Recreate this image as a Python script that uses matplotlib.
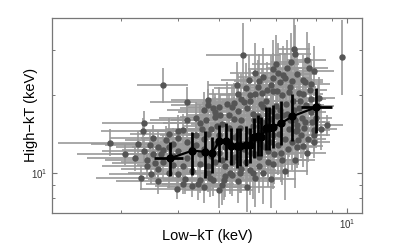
import numpy as np
import matplotlib
matplotlib.use("Agg")
import matplotlib.pyplot as plt
from matplotlib.ticker import NullFormatter, FixedLocator

plt.rcParams['font.family'] = ['Liberation Sans', 'DejaVu Sans']
plt.rcParams['mathtext.default'] = 'regular'

# individual regions: low-kT, high-kT and multiplicative error factors
gx = [2.69, 4.77, 9.65, 6.85, 6.9, 8.65, 1.85, 2.35, 2.33, 2.25,
      2.05, 2.35, 2.4, 2.5, 2.48, 2.6, 2.97, 3.1, 3.3, 3.5,
      3.1, 3.0, 3.2, 3.4, 3.9, 3.2, 3.7, 3.7, 2.65, 2.8,
      2.9, 3.5, 3.7, 3.9, 3.85, 7.6, 7.9, 5.9, 6.1, 7.0,
      7.3, 7.7, 5.9, 6.4, 6.65, 5.9, 5.45, 5.0, 4.85, 7.1,
      8.2, 7.7, 4.45, 4.0, 4.6, 7.0, 7.25, 5.5, 6.2, 5.1,
      7.4, 7.9, 7.9, 7.0, 7.3, 6.3, 5.9, 5.7, 5.35, 5.0,
      4.65, 4.4, 4.1, 4.2, 7.9, 7.0,
      3.6, 3.8, 4.0, 4.1, 4.3, 4.3, 4.5, 4.6, 4.7, 4.8,
      4.9, 5.0, 5.1, 5.2, 5.3, 5.4, 5.5, 5.6, 5.7, 5.8,
      5.9, 6.0, 6.1, 6.2, 6.3, 6.4, 6.5, 6.6, 6.8, 6.9,
      7.1, 7.2, 3.4, 3.5, 3.2, 3.0, 2.9, 2.7, 3.3, 3.7,
      4.2, 4.4, 4.6, 5.2, 5.5, 3.9, 4.4, 4.7, 5.3, 5.8,
      6.6, 6.2, 3.6, 2.6, 2.8, 2.4, 2.2, 2.3, 2.6, 3.0,
      3.6, 4.0, 4.9, 5.8, 6.4, 6.9, 7.5, 7.7, 8.0, 7.3,
      6.0, 5.5, 6.7, 7.5, 5.2,
      2.5, 2.7, 2.8, 2.9, 3.0, 3.1, 3.2, 3.3, 3.4, 3.5,
      2.55, 2.75, 3.15, 3.45, 2.45,
      3.6, 3.7, 3.8, 3.9, 4.0, 4.1, 4.2, 4.3, 4.4, 4.5,
      3.65, 3.85, 4.05, 4.25, 4.45, 3.75, 4.15, 4.35, 3.55, 3.95,
      4.55, 4.65, 4.75, 4.85, 4.95, 5.05, 5.15, 5.25, 5.35, 5.45,
      4.6, 4.8, 5.0, 5.2, 5.4, 4.7, 5.1, 4.55, 5.35, 4.95,
      5.55, 5.65, 5.75, 5.85, 5.95, 6.05, 6.15, 6.25, 6.35, 6.45,
      6.55, 6.65, 6.75, 6.85, 6.95, 5.65, 6.05, 6.35, 6.75, 6.5,
      7.05, 7.15, 7.35, 7.45, 7.55, 7.65, 7.8, 8.1, 8.3, 7.4]
gy = [21.9, 28.8, 28.1, 30.4, 28.9, 15.3, 13.1, 15.6, 14.6, 13.0,
      11.8, 12.2, 11.2, 13.7, 9.95, 10.4, 8.7, 9.1, 8.9, 9.4,
      14.7, 13.7, 16.0, 16.4, 17.2, 18.8, 19.2, 18.4, 11.9, 12.6,
      10.7, 11.9, 10.6, 11.0, 9.4, 25.6, 24.8, 25.3, 24.5, 24.3,
      23.0, 22.2, 23.4, 23.4, 21.5, 20.8, 20.4, 20.0, 21.3, 20.4,
      19.6, 19.4, 18.7, 18.0, 20.2, 15.3, 16.4, 18.0, 17.6, 17.0,
      15.8, 14.0, 13.2, 12.6, 12.7, 11.2, 10.8, 11.0, 11.5, 10.3,
      10.0, 9.8, 9.0, 9.7, 14.7, 14.7,
      13.5, 14.8, 12.0, 15.5, 13.2, 16.8, 11.5, 14.2, 16.0, 12.4,
      17.8, 13.6, 15.2, 11.8, 16.6, 13.0, 14.6, 19.0, 12.2, 16.2,
      14.0, 18.2, 12.8, 15.6, 20.0, 13.6, 17.0, 14.8, 19.0, 16.0,
      17.8, 14.0, 12.8, 15.6, 11.4, 12.2, 13.0, 11.0, 10.2, 10.0,
      10.6, 12.9, 9.3, 9.6, 10.0, 16.5, 18.0, 19.4, 21.5, 22.0,
      20.6, 22.5, 17.5, 12.6, 14.2, 10.6, 11.4, 9.6, 9.3, 9.9,
      8.8, 8.6, 8.8, 9.5, 10.2, 11.2, 12.0, 17.2, 16.4, 20.2,
      26.5, 23.5, 27.0, 27.5, 24.5,
      11.8, 12.3, 10.0, 11.6, 14.6, 10.6, 13.2, 12.4, 14.0, 10.8,
      10.9, 13.4, 9.5, 9.1, 12.9,
      12.4, 14.2, 11.6, 13.0, 14.0, 11.2, 12.6, 15.0, 11.0, 13.8,
      16.0, 17.8, 16.8, 18.6, 16.2, 9.6, 9.4, 10.0, 14.8, 15.2,
      12.6, 15.0, 13.0, 11.0, 14.6, 12.0, 16.0, 13.6, 10.6, 15.8,
      17.4, 18.8, 19.0, 20.2, 18.6, 10.4, 10.0, 22.0, 22.8, 23.0,
      12.6, 15.2, 13.2, 17.4, 11.8, 16.6, 14.2, 12.0, 16.8, 18.6,
      12.4, 16.0, 13.2, 17.6, 14.6, 21.0, 20.8, 24.0, 22.8, 25.6,
      13.4, 19.0, 15.0, 18.4, 13.6, 21.0, 15.8, 18.2, 14.8, 22.6]
gxf = [1.2, 1.3, 1.0, 1.12, 1.12, 1.12, 1.45, 1.35, 1.35, 1.4,
       1.4, 1.35, 1.35, 1.35, 1.35, 1.3, 1.3, 1.3, 1.3, 1.3,
       1.3, 1.3, 1.3, 1.3, 1.3, 1.3, 1.3, 1.3, 1.3, 1.3,
       1.3, 1.3, 1.3, 1.3, 1.3, 1.15, 1.15, 1.2, 1.2, 1.15,
       1.15, 1.15, 1.2, 1.2, 1.2, 1.2, 1.2, 1.25, 1.25, 1.15,
       1.12, 1.12, 1.25, 1.25, 1.25, 1.15, 1.15, 1.2, 1.2, 1.2,
       1.15, 1.12, 1.12, 1.15, 1.15, 1.2, 1.2, 1.2, 1.2, 1.2,
       1.2, 1.2, 1.2, 1.2, 1.12, 1.15,
       1.3, 1.28, 1.3, 1.25, 1.28, 1.25, 1.28, 1.25, 1.25, 1.25,
       1.22, 1.25, 1.22, 1.22, 1.2, 1.22, 1.2, 1.2, 1.2, 1.2,
       1.2, 1.18, 1.2, 1.18, 1.18, 1.18, 1.18, 1.18, 1.15, 1.15,
       1.15, 1.15, 1.3, 1.3, 1.3, 1.32, 1.32, 1.35, 1.3, 1.3,
       1.28, 1.28, 1.25, 1.22, 1.2, 1.28, 1.25, 1.25, 1.2, 1.2,
       1.18, 1.18, 1.3, 1.35, 1.32, 1.38, 1.4, 1.38, 1.35, 1.32,
       1.3, 1.28, 1.22, 1.2, 1.18, 1.15, 1.15, 1.12, 1.12, 1.15,
       1.18, 1.2, 1.15, 1.15, 1.2,
       1.36, 1.34, 1.33, 1.32, 1.32, 1.3, 1.3, 1.3, 1.29, 1.29,
       1.36, 1.34, 1.3, 1.29, 1.38,
       1.28, 1.28, 1.27, 1.27, 1.26, 1.26, 1.26, 1.25, 1.25, 1.24,
       1.28, 1.27, 1.26, 1.25, 1.24, 1.28, 1.26, 1.25, 1.29, 1.27,
       1.23, 1.23, 1.22, 1.22, 1.22, 1.21, 1.21, 1.2, 1.2, 1.2,
       1.23, 1.22, 1.22, 1.21, 1.2, 1.22, 1.21, 1.23, 1.2, 1.22,
       1.19, 1.19, 1.18, 1.18, 1.18, 1.17, 1.17, 1.17, 1.16, 1.16,
       1.16, 1.16, 1.15, 1.15, 1.15, 1.19, 1.17, 1.16, 1.15, 1.16,
       1.15, 1.15, 1.14, 1.14, 1.14, 1.13, 1.13, 1.12, 1.12, 1.14]
gyf = [1.17, 1.33, 1.4, 1.3, 1.3, 1.1, 1.13, 1.12, 1.12, 1.12,
       1.1, 1.12, 1.1, 1.12, 1.1, 1.12, 1.1, 1.1, 1.1, 1.12,
       1.15, 1.15, 1.15, 1.15, 1.18, 1.15, 1.18, 1.15, 1.12, 1.12,
       1.12, 1.15, 1.15, 1.15, 1.15, 1.25, 1.25, 1.3, 1.3, 1.25,
       1.25, 1.25, 1.25, 1.25, 1.25, 1.25, 1.25, 1.25, 1.25, 1.2,
       1.2, 1.2, 1.2, 1.2, 1.2, 1.2, 1.2, 1.2, 1.2, 1.2,
       1.2, 1.15, 1.15, 1.2, 1.2, 1.25, 1.25, 1.25, 1.25, 1.25,
       1.2, 1.2, 1.2, 1.2, 1.15, 1.2,
       1.18, 1.2, 1.18, 1.2, 1.2, 1.22, 1.2, 1.22, 1.22, 1.2,
       1.25, 1.22, 1.25, 1.25, 1.25, 1.25, 1.25, 1.28, 1.28, 1.25,
       1.25, 1.28, 1.3, 1.25, 1.28, 1.28, 1.25, 1.28, 1.28, 1.25,
       1.25, 1.22, 1.18, 1.18, 1.15, 1.15, 1.15, 1.15, 1.15, 1.18,
       1.2, 1.2, 1.22, 1.3, 1.32, 1.2, 1.22, 1.25, 1.28, 1.3,
       1.28, 1.3, 1.18, 1.15, 1.15, 1.12, 1.12, 1.12, 1.12, 1.15,
       1.15, 1.18, 1.25, 1.3, 1.3, 1.28, 1.22, 1.22, 1.2, 1.25,
       1.3, 1.3, 1.3, 1.28, 1.3,
       1.14, 1.14, 1.14, 1.15, 1.15, 1.15, 1.16, 1.16, 1.16, 1.16,
       1.13, 1.14, 1.15, 1.16, 1.13,
       1.18, 1.18, 1.19, 1.19, 1.2, 1.2, 1.2, 1.21, 1.21, 1.22,
       1.18, 1.19, 1.2, 1.21, 1.22, 1.19, 1.2, 1.21, 1.18, 1.19,
       1.23, 1.23, 1.24, 1.24, 1.25, 1.25, 1.26, 1.26, 1.27, 1.27,
       1.23, 1.24, 1.25, 1.26, 1.27, 1.24, 1.26, 1.23, 1.27, 1.25,
       1.28, 1.28, 1.29, 1.29, 1.3, 1.3, 1.3, 1.3, 1.3, 1.3,
       1.29, 1.29, 1.28, 1.28, 1.27, 1.28, 1.3, 1.3, 1.28, 1.28,
       1.25, 1.25, 1.24, 1.24, 1.23, 1.23, 1.22, 1.21, 1.2, 1.24]

# binned average
bx = [2.83, 3.31, 3.63, 3.82, 4.02, 4.22, 4.37, 4.56, 4.66, 4.86,
      5.01, 5.15, 5.30, 5.42, 5.61, 5.74, 5.90, 6.25, 6.76, 8.02]
by = [11.4, 12.2, 12.1, 11.95, 13.3, 13.3, 12.7, 12.7, 12.7, 12.9,
      12.9, 13.8, 13.9, 13.8, 14.9, 14.9, 15.1, 15.6, 16.6, 18.0]
by_lo = [9.7, 9.8, 9.6, 10.0, 11.0, 11.2, 10.7, 10.5, 10.6, 10.6,
         10.9, 11.4, 11.6, 11.6, 12.3, 12.3, 12.5, 12.8, 13.3, 14.3]
by_hi = [13.2, 14.4, 14.5, 13.8, 15.3, 15.6, 14.9, 14.9, 15.0, 15.2,
         15.0, 16.4, 16.8, 16.5, 18.0, 18.0, 18.4, 19.0, 20.3, 21.4]
bx_lo = [2.53] + bx[1:-1] + [7.2]
bx_hi = [3.10] + bx[1:-1] + [9.0]

gx = np.array(gx); gy = np.array(gy)
gxf = np.array(gxf); gyf = np.array(gyf)
bx = np.array(bx); by = np.array(by)

fig = plt.figure(figsize=(3.99, 2.45), dpi=100)
ax = fig.add_axes([0.130, 0.131, 0.777, 0.796])

ax.errorbar(gx, gy, xerr=[gx - gx / gxf, gx * gxf - gx],
            yerr=[gy - gy / gyf, gy * gyf - gy],
            fmt='o', ms=3.6, color='#555555', mec='#555555',
            ecolor='#999999', elinewidth=1.2, capsize=0, zorder=2)

ax.errorbar(bx, by, xerr=[bx - np.array(bx_lo), np.array(bx_hi) - bx],
            yerr=[by - np.array(by_lo), np.array(by_hi) - by],
            fmt='o-', ms=5, color='black', lw=1.6,
            elinewidth=2.0, capsize=0, zorder=3)

ax.set_xscale('log')
ax.set_yscale('log')
ax.set_xlim(1.22, 11.1)
ax.set_ylim(7, 40)

ax.xaxis.set_major_locator(FixedLocator([10]))
ax.xaxis.set_minor_locator(FixedLocator([2, 3, 4, 5, 6, 7, 8, 9]))
ax.yaxis.set_major_locator(FixedLocator([10]))
ax.yaxis.set_minor_locator(FixedLocator([8, 9, 20, 30]))
ax.xaxis.set_minor_formatter(NullFormatter())
ax.yaxis.set_minor_formatter(NullFormatter())
ax.set_xticklabels(['$10^1$'])
ax.set_yticklabels(['$10^1$'])

for s in ax.spines.values():
    s.set_color('#777777')
    s.set_linewidth(0.9)
ax.tick_params(which='both', direction='in', top=True, right=True,
               color='#777777', labelsize=7, labelcolor='#333333')
ax.tick_params(which='major', length=3.5, width=0.8, pad=3)
ax.tick_params(which='minor', length=2.5, width=0.7)

ax.set_xlabel('Low\u2212kT (keV)', fontsize=10.5, labelpad=-1)
ax.set_ylabel('High\u2212kT (keV)', fontsize=10.5, labelpad=-5)

fig.savefig('out.png', dpi=100)
